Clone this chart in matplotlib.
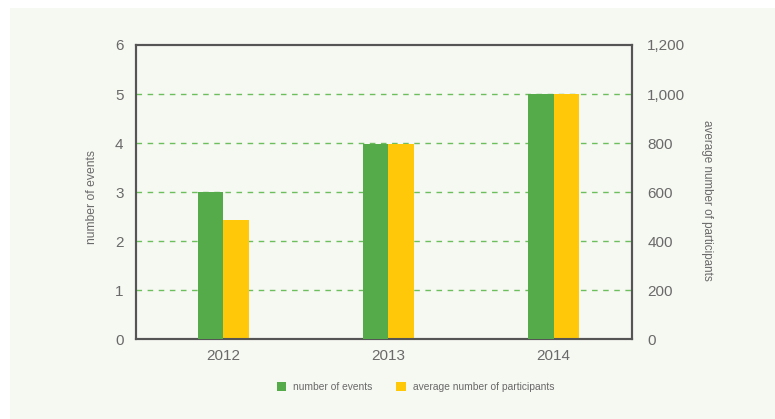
import matplotlib.pyplot as plt
from matplotlib.patches import Rectangle
from matplotlib.ticker import FuncFormatter
import numpy as np

years = ['2012', '2013', '2014']
num_events = [3, 3.97, 5]
avg_participants = [486, 795, 1000]

GREEN = '#55aa4a'
YELLOW = '#ffc90a'
GRID = '#6cbf5c'
TEXT = '#6a6a6a'
BG = '#f6f8f2'

plt.rcParams['font.family'] = ['Liberation Sans', 'DejaVu Sans']

fig = plt.figure(figsize=(7.75, 4.19), dpi=100, facecolor='white')
fig.patches.append(Rectangle((10 / 775, 0), 1, 1 - 8 / 419, transform=fig.transFigure,
                             facecolor=BG, edgecolor='none', zorder=-10))

ax = fig.add_axes([136 / 775, 1 - 339 / 419, 496 / 775, 294 / 419])
ax2 = ax.twinx()

x = np.arange(len(years))
w = 0.153
ax.bar(x - w / 2, num_events, width=w, color=GREEN, zorder=3, label='number of events')
ax2.bar(x + w / 2, avg_participants, width=w, color=YELLOW, zorder=3,
        label='average number of participants')

ax.set_xlim(-0.529, 2.475)
ax.set_ylim(0, 6)
ax2.set_ylim(0, 1200)
ax.set_xticks(x)
ax.set_xticklabels(years)
ax.set_yticks(range(7))
ax2.set_yticks(range(0, 1201, 200))
ax2.yaxis.set_major_formatter(FuncFormatter(lambda v, p: f'{int(v):,}'))

for y in range(1, 6):
    ax2.axhline(y * 200, color=GRID, lw=1, ls=(0, (4, 4)), zorder=1)

for a in (ax, ax2):
    for s in a.spines.values():
        s.set_color('#555555')
        s.set_linewidth(1.5)
    a.tick_params(length=0, labelsize=11, labelcolor=TEXT)
ax.tick_params(axis='y', pad=9)
ax2.tick_params(axis='y', pad=11)
ax.tick_params(axis='x', pad=7)

ax.set_ylabel('number of events', fontsize=8.7, color=TEXT, va='center')
ax.yaxis.set_label_coords(-0.089, 0.483)
ax2.set_ylabel('average number of participants', fontsize=8.4, color=TEXT, rotation=-90,
               va='center')
ax2.yaxis.set_label_coords(1.151, 0.47)
ax.set_zorder(ax2.get_zorder() + 1)
ax.patch.set_visible(False)
ax2.patch.set_facecolor(BG)

h1, l1 = ax.get_legend_handles_labels()
h2, l2 = ax2.get_legend_handles_labels()
fig.legend(h1 + h2, l1 + l2, loc='center', bbox_to_anchor=(415.5 / 775, 1 - 387 / 419),
           ncol=2, frameon=False, fontsize=7.4, labelcolor=TEXT, handlelength=0.9,
           handleheight=0.9, columnspacing=2.3, handletextpad=0.7)

fig.savefig('out.png', dpi=100, facecolor=fig.get_facecolor())
